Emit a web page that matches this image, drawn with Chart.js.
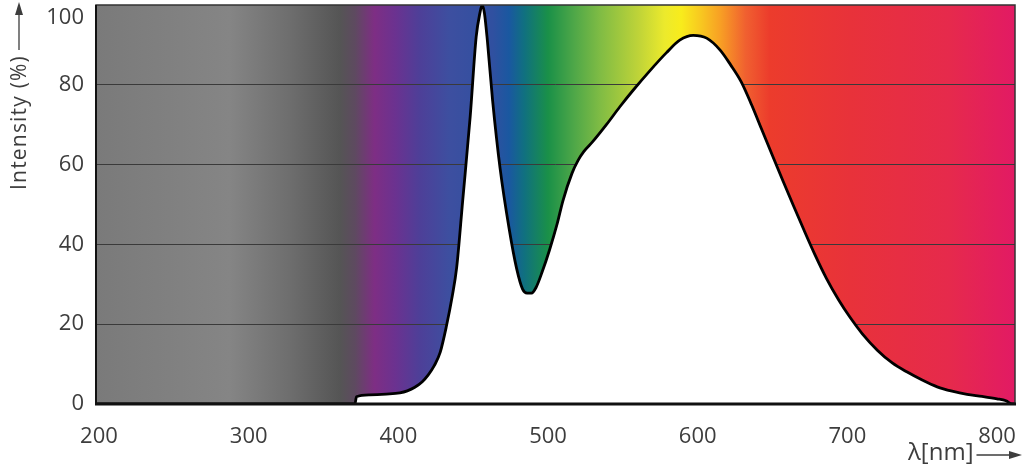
<!DOCTYPE html>
<html>
<head>
<meta charset="utf-8">
<script src="https://cdn.jsdelivr.net/npm/chart.js@4/dist/chart.umd.min.js"></script>
<style>
  html, body { margin: 0; padding: 0; background: #fff; }
  #wrap { width: 1024px; height: 469px; position: relative; }
</style>
</head>
<body>
<div id="wrap"><canvas id="spectrum"></canvas></div>
<script>
// LED emission spectrum
const wavelengths = [198, 371, 372, 381, 392, 401, 406, 411, 416, 420, 424, 428, 432, 436, 439, 443, 448, 452, 454.5, 456, 457.5, 459.5, 463, 468, 474, 479, 483, 486, 489, 492, 496, 501, 506, 510, 516, 520, 524, 530, 539, 548, 557, 568, 579, 588, 597, 606, 615, 622, 629, 636, 643, 650, 657, 664, 671, 678, 686, 694, 702, 710, 720, 730, 740, 750, 760, 770, 780, 790, 800, 806, 810, 812];
const intensity = [0, 0, 1.8, 2.3, 2.5, 2.8, 3.3, 4.2, 5.6, 7.3, 9.6, 13, 19.3, 27, 34.3, 51, 72, 92, 98, 100, 98, 91, 76, 59, 44, 34, 28.8, 27.8, 27.8, 29.2, 33, 38.6, 45, 51, 57.8, 61, 63.3, 65.8, 70, 74.5, 78.7, 83.5, 88, 91.2, 92.4, 91.7, 88.7, 85, 80.8, 75, 68.6, 62.2, 55.9, 49.7, 43.6, 37.7, 31.5, 26.2, 21.6, 17.6, 13.5, 10.3, 8, 6, 4.3, 3.2, 2.4, 1.9, 1.3, 0.8, 0, 0];

const xTicks = [200, 300, 400, 500, 600, 700, 800];
const yTicks = [0, 20, 40, 60, 80, 100];

const xMin = 198, xMax = 812;

// background spectrum colours (nm, colour)
const spectrumStops = [
  [198, "#7a7a7a"], [287, "#858585"], [327, "#6e6e6e"], [361, "#555555"],
  [371, "#5e4a60"], [384, "#7e2e84"], [398, "#6b3290"], [414, "#4e3f98"],
  [434, "#3d4fa0"], [463, "#3050a0"], [474, "#1a58a0"], [484, "#107080"],
  [500, "#1a9048"], [518, "#50a848"], [535, "#80bc44"], [561, "#c0d438"],
  [578, "#ecea2c"], [589, "#f8ec1c"], [602, "#f8c820"], [615, "#f8a024"],
  [632, "#f06030"], [648, "#ec3c2c"], [702, "#e8323a"], [768, "#e62a4c"],
  [812, "#e21a64"]
];

const textColor = "#3d3d3d";
const fontFamily = "'Open Sans', 'DejaVu Sans', sans-serif";

const spectrumPlugin = {
  id: "spectrumPlugin",
  beforeDraw(chart) {
    const { ctx, chartArea: a, scales: { x } } = chart;
    const x0 = x.getPixelForValue(xMin), x1 = x.getPixelForValue(xMax);
    const g = ctx.createLinearGradient(x0, 0, x1, 0);
    spectrumStops.forEach(([nm, c]) => g.addColorStop((nm - xMin) / (xMax - xMin), c));
    ctx.save();
    ctx.fillStyle = g;
    ctx.fillRect(a.left, a.top, a.right - a.left, a.bottom - a.top);
    ctx.restore();
  },
  afterDraw(chart) {
    const { ctx, chartArea: a } = chart;
    ctx.save();
    // frame
    ctx.strokeStyle = "#333";
    ctx.lineWidth = 1.5;
    ctx.strokeRect(a.left, a.top, a.right - a.left, a.bottom - a.top);
    ctx.strokeStyle = "#111";
    ctx.lineWidth = 3;
    ctx.beginPath();
    ctx.moveTo(a.left - 1, a.bottom);
    ctx.lineTo(a.right + 1, a.bottom);
    ctx.stroke();
    ctx.beginPath();
    ctx.lineWidth = 2;
    ctx.moveTo(a.left, a.top);
    ctx.lineTo(a.left, a.bottom);
    ctx.stroke();

    // y title with arrow
    ctx.fillStyle = textColor;
    ctx.strokeStyle = textColor;
    ctx.font = "21px " + fontFamily;
    ctx.save();
    ctx.translate(20, 190);
    ctx.rotate(-Math.PI / 2);
    ctx.textBaseline = "middle";
    ctx.textAlign = "left";
    ctx.letterSpacing = "1.2px";
    ctx.fillText("Intensity (%)", 0, 0);
    const tw = ctx.measureText("Intensity (%)").width;
    ctx.lineWidth = 1.3;
    ctx.beginPath();
    ctx.moveTo(tw + 5, -1);
    ctx.lineTo(184, -1);
    ctx.stroke();
    ctx.beginPath();
    ctx.moveTo(188, -1);
    ctx.lineTo(175, -5);
    ctx.lineTo(175, 3);
    ctx.closePath();
    ctx.fill();
    ctx.restore();

    // x title with arrow
    ctx.font = "24px " + fontFamily;
    ctx.textBaseline = "middle";
    ctx.textAlign = "left";
    ctx.fillText("λ[nm]", 908, 453);
    const xw = ctx.measureText("λ[nm]").width;
    ctx.lineWidth = 1.3;
    ctx.beginPath();
    ctx.moveTo(908 + xw + 3, 455);
    ctx.lineTo(1018, 455);
    ctx.stroke();
    ctx.beginPath();
    ctx.moveTo(1022, 455);
    ctx.lineTo(1009, 451);
    ctx.lineTo(1009, 459);
    ctx.closePath();
    ctx.fill();
    ctx.restore();
  }
};

new Chart(document.getElementById("spectrum"), {
  type: "line",
  data: {
    datasets: [{
      data: wavelengths.map((w, i) => ({ x: w, y: intensity[i] })),
      borderColor: "#000",
      borderWidth: 2.8,
      backgroundColor: "#ffffff",
      fill: "origin",
      pointRadius: 0,
      cubicInterpolationMode: "monotone"
    }]
  },
  options: {
    responsive: true,
    maintainAspectRatio: false,
    animation: false,
    layout: { padding: { left: 0, right: 9, top: 5, bottom: 0 } },
    plugins: { legend: { display: false }, tooltip: { enabled: false } },
    scales: {
      x: {
        type: "linear",
        min: xMin,
        max: xMax,
        afterBuildTicks: s => { s.ticks = xTicks.map(v => ({ value: v })); },
        afterFit: s => { s.height = 65; s.paddingLeft = 0; s.paddingRight = 0; },
        grid: { display: false },
        border: { display: false },
        ticks: { color: textColor, font: { size: 22, family: fontFamily }, padding: 12, maxRotation: 0 }
      },
      y: {
        min: 0,
        max: 100,
        afterBuildTicks: s => { s.ticks = yTicks.map(v => ({ value: v })); },
        afterFit: s => { s.width = 96; s.paddingTop = 0; s.paddingBottom = 0; },
        grid: {
          drawTicks: false,
          color: c => (c.tick.value === 0 || c.tick.value === 100) ? "rgba(0,0,0,0)" : "#3a3a3a",
          lineWidth: 1
        },
        border: { display: false },
        ticks: {
          color: textColor,
          font: { size: 22, family: fontFamily },
          padding: 12,
          callback: v => v === 100 ? ["", "100"] : String(v)
        }
      }
    }
  },
  plugins: [spectrumPlugin]
});
</script>
</body>
</html>
